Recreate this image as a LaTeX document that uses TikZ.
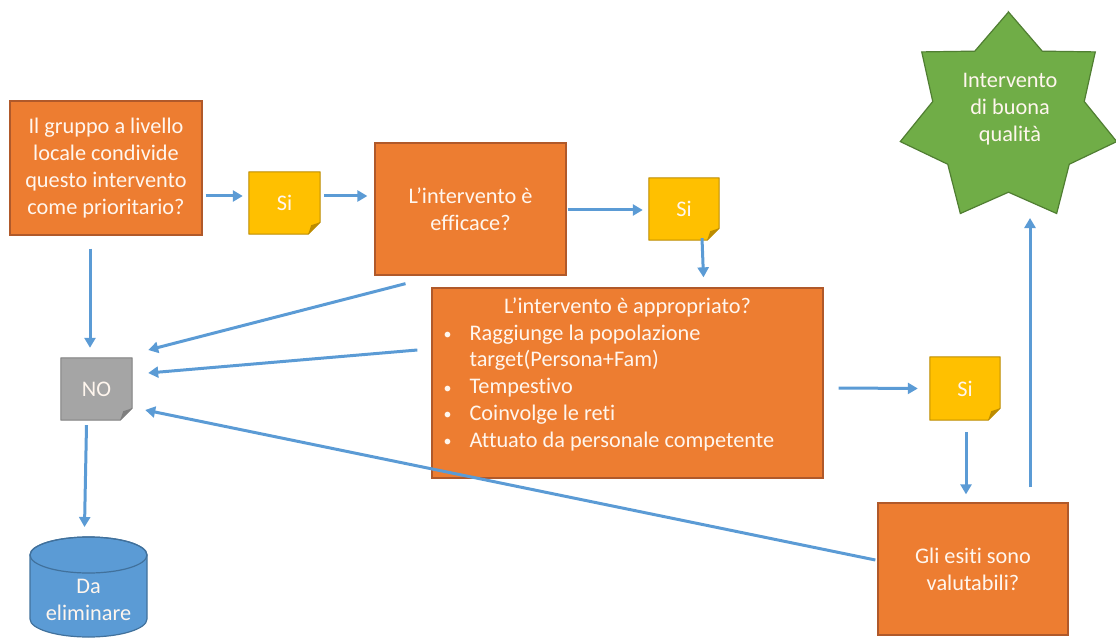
\documentclass[tikz,border=0pt]{standalone}
\usepackage{fontspec}
\setmainfont{Carlito}[Ligatures=NoCommon]
\usetikzlibrary{arrows.meta,calc,backgrounds}
\definecolor{orng}{HTML}{ED7D31}
\definecolor{orngb}{HTML}{B0592A}
\definecolor{yel}{HTML}{FFC000}
\definecolor{yelb}{HTML}{BC8C00}
\definecolor{gry}{HTML}{A5A5A5}
\definecolor{gryb}{HTML}{7F7F7F}
\definecolor{blu}{HTML}{5B9BD5}
\definecolor{blub}{HTML}{41719C}
\definecolor{grn}{HTML}{70AD47}
\definecolor{grnb}{HTML}{507E32}
\definecolor{arr}{HTML}{5B9BD5}
\definecolor{txtc}{HTML}{FFF6EE}
\newcommand\foldnote[3]{%
  \filldraw[fill=#2,draw=#3,line width=1pt,line join=round]
    (#1.north west) -- (#1.north east) -- ([yshift=12pt]#1.south east)
    -- ([xshift=-12pt]#1.south east) -- (#1.south west) -- cycle;
  \fill[#3] ([yshift=12pt]#1.south east) -- ([xshift=-12pt]#1.south east)
    -- ([xshift=-9pt,yshift=9pt]#1.south east) -- cycle;}
\newcommand\bul{\makebox[27pt][l]{\hspace*{1pt}\raisebox{0.5pt}{\fontsize{16}{16}\selectfont\textbullet}}}
\begin{document}
\begin{tikzpicture}[x=1pt,y=-1pt,
  txt/.style={font=\fontsize{22.3}{26.8}\selectfont,text=txtc,align=center},
  obox/.style={txt,rectangle,fill=orng,draw=orngb,line width=1.3pt,inner sep=0pt},
  note/.style={txt,rectangle,inner sep=0pt},
  conn/.style={draw=arr,line width=3pt,-{Triangle[length=10pt,width=11pt]}}]
\useasboundingbox (0,0) rectangle (1116,639);

% nodes
\node[obox,minimum width=192pt,minimum height=134pt] (box1) at (106,168)
  {Il gruppo a livello\\locale condivide\\questo intervento\\come prioritario?};
\node[note,minimum width=71pt,minimum height=62pt] (si1) at (284.5,203) {Si};
\node[obox,minimum width=191pt,minimum height=132pt] (box2) at (470.5,209)
  {L’intervento è\\efficace?};
\node[note,minimum width=70pt,minimum height=62pt] (si2) at (684,209) {Si};
\node[obox,minimum width=391pt,minimum height=190pt] (box3) at (627.5,383) {};
\node[txt,anchor=base] (title3) at ($(box3.north)+(0,26)$) {L’intervento è appropriato?};
\node[txt,align=left,anchor=north west,inner sep=0pt] (list3) at ($(box3.north west)+(11,37)$)
  {\bul Raggiunge la popolazione\\
   \hspace*{27pt}target(Persona+Fam)\\
   \bul Tempestivo\\
   \bul Coinvolge le reti\\
   \bul Attuato da personale competente};
\node[note,minimum width=71pt,minimum height=62pt] (no) at (96.5,389) {NO};
\node[note,minimum width=70pt,minimum height=63pt] (si3) at (965,388.5) {Si};
\node[obox,minimum width=190pt,minimum height=132pt] (box4) at (973,569)
  {Gli esiti sono\\valutabili?};

% star
\filldraw[fill=grn,draw=grnb,line width=1.2pt,line join=miter]
  (1008.5,118) +(-90:111 and 106)
  \foreach \i in {0,...,6}{ -- +({-90+\i*360/7+180/7}:77.7 and 74.2)
     -- +({-90+\i*360/7+360/7}:111 and 106)} -- cycle;
\node[txt] (star) at (1010,109) {Intervento\\di buona\\qualità};
\coordinate (starbot) at (1030,218);

% cylinder
\filldraw[fill=blu,draw=blub,line width=1.2pt]
  (30,555) -- (30,619) arc[start angle=180,end angle=0,x radius=58.5,y radius=18]
  -- (147,555) arc[start angle=0,end angle=-180,x radius=58.5,y radius=18] -- cycle;
\draw[blub,line width=1.2pt] (88.5,555) ellipse[x radius=58.5,y radius=18];
\node[txt] (cyl) at (88.5,600) {Da\\eliminare};
\coordinate (cyltop) at (88.5,537);

% folded notes
\begin{scope}[on background layer]
  \foldnote{si1}{yel}{yelb}
  \foldnote{si2}{yel}{yelb}
  \foldnote{si3}{yel}{yelb}
  \foldnote{no}{gry}{gryb}
\end{scope}

% connectors
\draw[conn] ($(box1.east)+(3,28)$) -- ($(si1.west)+(-6,-7)$);
\draw[conn] ($(si1.east)+(4,-7)$) -- ($(box2.west)+(-7,-13)$);
\draw[conn] ($(box2.east)+(1,1)$) -- ($(si2.west)+(-6,1)$);
\draw[conn] ($(si2.south)+(18,-2)$) -- ($(box3.north)+(76,-10)$);
\draw[conn] ($(box1.south)+(-16,13)$) -- ($(no.north)+(-6.5,-10)$);
\draw[conn] ($(box2.south)+(-65,8)$) -- ($(no.east)+(16,-39)$);
\draw[conn] ($(box3.west)+(-14,-33)$) -- ($(no.east)+(16,-16)$);
\draw[conn] ($(box4.west)+(-2,-9)$) -- ($(no.east)+(13,21)$);
\draw[conn] ($(no.south)+(-10,5)$) -- ($(cyltop)+(-4,-10)$);
\draw[conn] ($(box3.east)+(15,5)$) -- ($(si3.west)+(-12,0)$);
\draw[conn] ($(si3.south)+(1,12)$) -- ($(box4.north)+(-7,-8)$);
\draw[conn] ($(box4.north)+(57,-15)$) -- (starbot);
\end{tikzpicture}
\end{document}
